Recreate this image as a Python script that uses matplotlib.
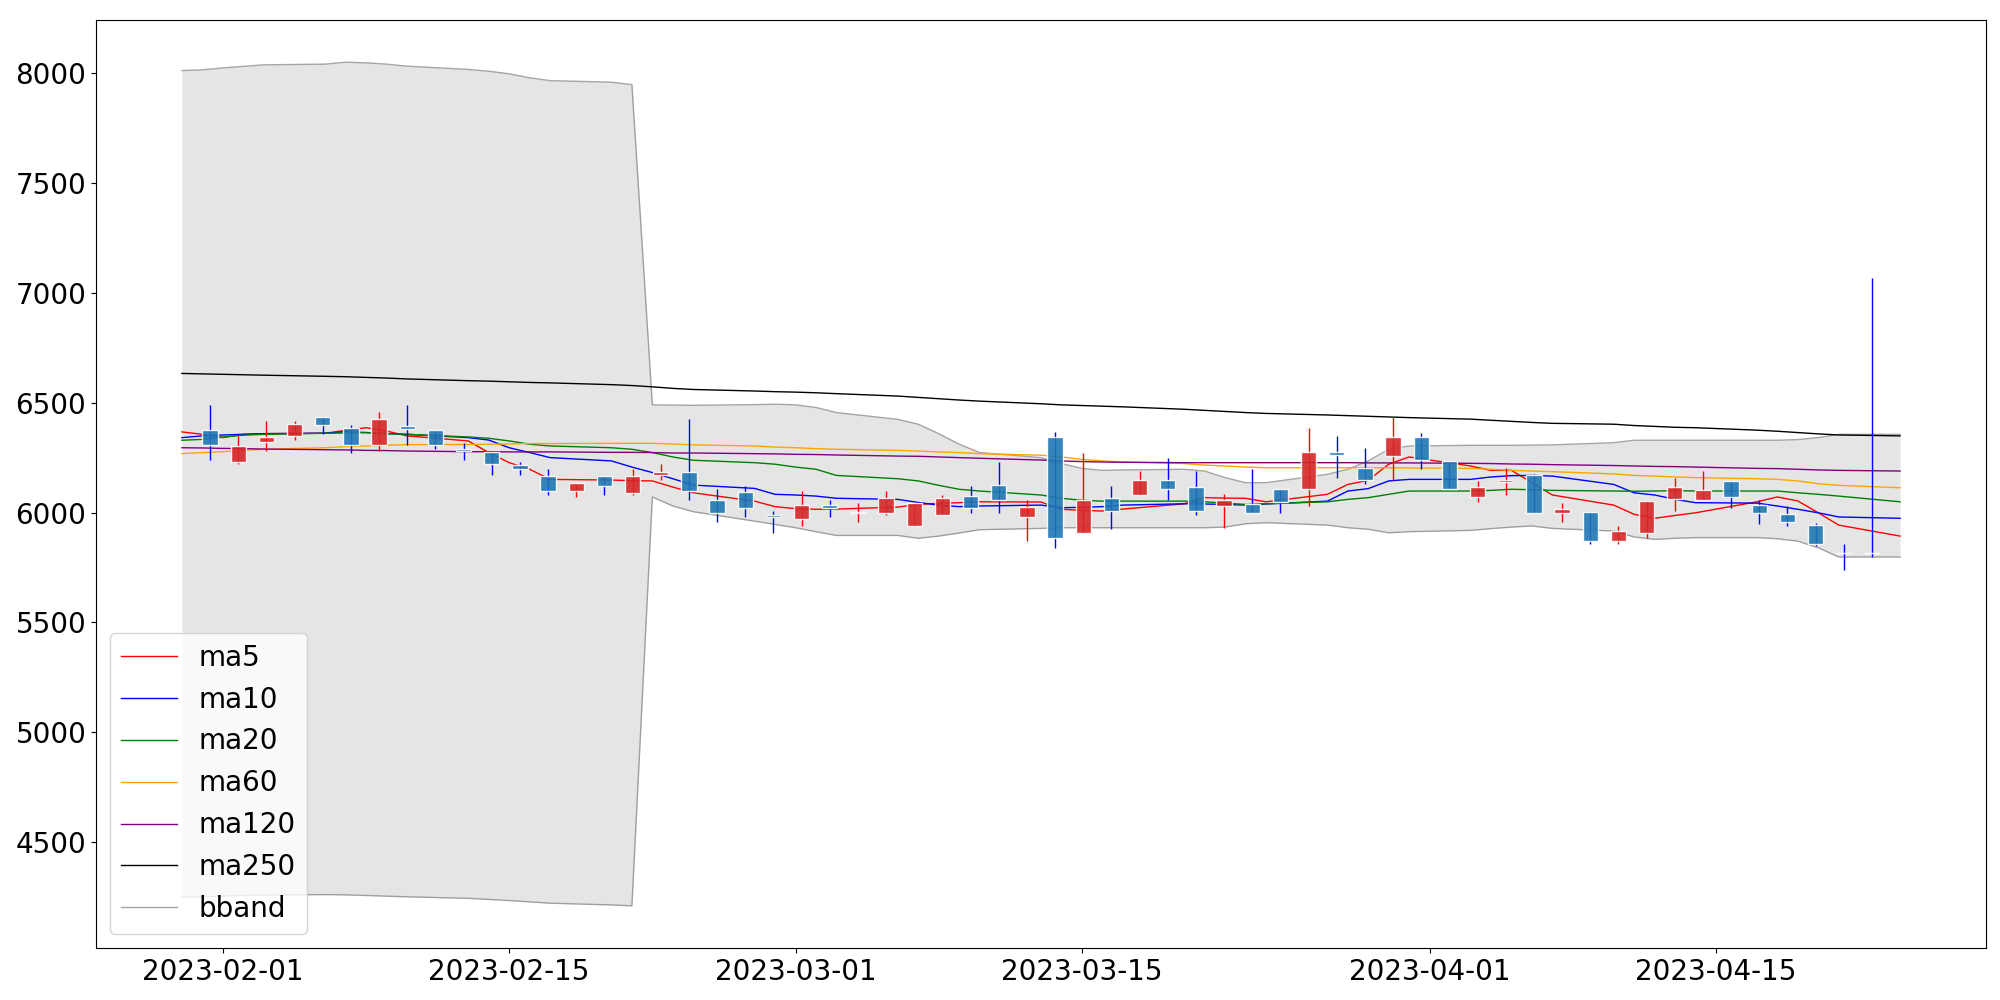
import matplotlib
matplotlib.use("Agg")
import matplotlib.pyplot as plt
import matplotlib.dates as mdates
import numpy as np
import pandas as pd

# trading days for the indicator lines
dates = pd.bdate_range("2023-01-30", "2023-04-24")

ma5 = [6367, 6356, 6341, 6356, 6359, 6361, 6374, 6386, 6371, 6349,
       6326, 6273, 6227, 6197, 6151, 6148, 6145, 6144, 6116, 6090,
       6052, 6027, 6018, 6015, 6016, 6025, 6037, 6042, 6045, 6049,
       6048, 6015, 6010, 6007, 6016, 6040, 6068, 6066, 6065, 6049,
       6083, 6128, 6147, 6220, 6253, 6212, 6192, 6192, 6136, 6080,
       6034, 5992, 5974, 5987, 5999, 6049, 6071, 6053, 5999, 5943, 5893]
ma10 = [6341, 6349, 6353, 6356, 6359, 6361, 6368, 6364, 6359, 6356,
        6341, 6330, 6295, 6273, 6250, 6235, 6207, 6182, 6154, 6125,
        6110, 6083, 6080, 6075, 6065, 6060, 6046, 6034, 6027, 6030,
        6034, 6022, 6024, 6027, 6034, 6040, 6039, 6037, 6034, 6039,
        6052, 6098, 6109, 6144, 6151, 6151, 6162, 6168, 6169, 6166,
        6128, 6090, 6080, 6060, 6045, 6043, 6030, 6015, 5999, 5980, 5974]
ma20 = [6329, 6333, 6344, 6352, 6356, 6361, 6362, 6364, 6359, 6356,
        6344, 6338, 6326, 6311, 6303, 6295, 6288, 6273, 6253, 6238,
        6227, 6220, 6207, 6197, 6169, 6154, 6144, 6124, 6106, 6098,
        6080, 6065, 6056, 6052, 6052, 6052, 6049, 6043, 6037, 6040,
        6049, 6060, 6068, 6083, 6098, 6098, 6101, 6106, 6104, 6101,
        6098, 6097, 6098, 6100, 6098, 6098, 6098, 6090, 6083, 6075, 6049]
ma60 = [6268, 6273, 6277, 6283, 6288, 6295, 6300, 6303, 6306, 6309,
        6310, 6311, 6312, 6314, 6314, 6315, 6315, 6315, 6312, 6308,
        6303, 6298, 6295, 6291, 6288, 6283, 6280, 6276, 6273, 6268,
        6261, 6253, 6242, 6235, 6230, 6223, 6216, 6212, 6207, 6204,
        6204, 6204, 6204, 6204, 6203, 6201, 6197, 6192, 6189, 6186,
        6176, 6169, 6166, 6162, 6159, 6154, 6151, 6144, 6131, 6124, 6113]
ma120 = [6295, 6294, 6292, 6291, 6289, 6286, 6285, 6283, 6282, 6280,
         6277, 6277, 6276, 6276, 6276, 6274, 6274, 6273, 6271, 6271,
         6268, 6267, 6265, 6264, 6262, 6257, 6256, 6253, 6250, 6247,
         6239, 6235, 6232, 6230, 6229, 6227, 6227, 6227, 6227, 6227,
         6227, 6227, 6226, 6226, 6226, 6224, 6223, 6221, 6220, 6218,
         6214, 6212, 6210, 6209, 6207, 6201, 6200, 6197, 6194, 6192, 6189]
ma250 = [6633, 6631, 6629, 6627, 6625, 6620, 6618, 6615, 6612, 6608,
         6600, 6598, 6595, 6592, 6590, 6582, 6578, 6572, 6565, 6560,
         6553, 6550, 6548, 6545, 6541, 6530, 6524, 6518, 6512, 6507,
         6495, 6490, 6487, 6484, 6481, 6470, 6465, 6460, 6455, 6451,
         6444, 6441, 6438, 6435, 6432, 6425, 6420, 6415, 6410, 6406,
         6402, 6396, 6392, 6388, 6386, 6375, 6370, 6364, 6358, 6353, 6349]
upper = [8011, 8014, 8023, 8030, 8037, 8040, 8049, 8046, 8040, 8031,
         8016, 8008, 7996, 7978, 7965, 7958, 7947, 6490, 6489, 6488,
         6491, 6493, 6490, 6478, 6455, 6424, 6402, 6359, 6311, 6273,
         6250, 6223, 6201, 6192, 6194, 6197, 6189, 6159, 6136, 6136,
         6174, 6197, 6235, 6288, 6303, 6306, 6306, 6306, 6307, 6308,
         6318, 6329, 6329, 6329, 6329, 6329, 6329, 6332, 6341, 6356, 6356]
lower = [4250, 4252, 4255, 4258, 4260, 4262, 4261, 4258, 4255, 4252,
         4245, 4240, 4235, 4229, 4223, 4215, 4211, 6071, 6030, 6004,
         5961, 5946, 5931, 5913, 5896, 5896, 5883, 5893, 5907, 5922,
         5928, 5931, 5931, 5931, 5931, 5931, 5931, 5934, 5949, 5954,
         5943, 5931, 5924, 5908, 5913, 5919, 5927, 5934, 5939, 5928,
         5916, 5889, 5878, 5883, 5886, 5886, 5881, 5870, 5840, 5798, 5798]

# candles
opens = [6376, 6232, 6321, 6350, 6437, 6386, 6308, 6396, 6377, 6288,
         6277, 6218, 6166, 6098, 6166, 6087, 6171, 6186, 6056, 6095,
         5987, 5972, 6034, 5998, 5998, 5939, 5989, 6077, 6127, 5980,
         6344, 5908, 6068, 6080, 6147, 6118, 6030, 6037, 6106, 6109,
         6276, 6204, 6259, 6344, 6235, 6071, 6141, 6169, 5998, 6002,
         5872, 5908, 6060, 6059, 6144, 6034, 5995, 5943, 5817, 5817]
highs = [6488, 6349, 6415, 6415, 6437, 6397, 6458, 6488, 6377, 6318,
         6277, 6230, 6197, 6136, 6166, 6197, 6219, 6427, 6106, 6119,
         6007, 6098, 6056, 6045, 6098, 6043, 6078, 6119, 6230, 6056,
         6367, 6270, 6119, 6189, 6247, 6189, 6086, 6197, 6106, 6386,
         6347, 6295, 6437, 6364, 6235, 6144, 6204, 6177, 6045, 6002,
         5937, 6053, 6159, 6189, 6144, 6057, 6028, 5954, 5855, 7067]
lows = [6238, 6220, 6279, 6329, 6356, 6270, 6279, 6308, 6288, 6238,
        6169, 6169, 6078, 6071, 6078, 6078, 6147, 6056, 5957, 5980,
        5907, 5937, 5980, 5957, 5989, 5939, 5989, 5996, 5996, 5869,
        5837, 5908, 5927, 6080, 6056, 5987, 5931, 5998, 5996, 6030,
        6156, 6128, 6147, 6197, 6109, 6048, 6078, 5998, 5957, 5855,
        5855, 5886, 6007, 6059, 6019, 5946, 5937, 5846, 5737, 5797]
closes = [6308, 6304, 6345, 6405, 6400, 6308, 6427, 6380, 6308, 6279,
          6221, 6198, 6098, 6136, 6121, 6166, 6186, 6098, 5998, 6021,
          5980, 6036, 6022, 6004, 6068, 6043, 6068, 6022, 6059, 6025,
          5883, 6056, 6007, 6147, 6107, 6007, 6056, 5998, 6049, 6276,
          6260, 6148, 6344, 6241, 6109, 6118, 6147, 5998, 6018, 5872,
          5916, 6053, 6116, 6103, 6071, 5998, 5957, 5857, 5817, 5817]

x = mdates.date2num(dates)
# candles sit evenly spaced inside the date span
cx = np.linspace(x[0], x[-1], len(opens) + 2)[1:-1]
o = np.array(opens)
c = np.array(closes)
up = c > o

fig, ax = plt.subplots(figsize=(20, 10), dpi=100)

ax.fill_between(dates, lower, upper, color="gray", alpha=0.2, lw=0)
ax.plot(dates, upper, color="gray", lw=1, alpha=0.7, label="bband")
ax.plot(dates, lower, color="gray", lw=1, alpha=0.7)

ax.plot(dates, ma5, color="red", lw=1, label="ma5")
ax.plot(dates, ma10, color="blue", lw=1, label="ma10")
ax.plot(dates, ma20, color="green", lw=1, label="ma20")
ax.plot(dates, ma60, color="orange", lw=1, label="ma60")
ax.plot(dates, ma120, color="purple", lw=1, label="ma120")
ax.plot(dates, ma250, color="black", lw=1, label="ma250")

wick_colors = np.where(up, "red", "blue")
ax.vlines(cx, lows, highs, colors=wick_colors, lw=1, zorder=3)
body_colors = np.where(up, "tab:red", "tab:blue")
ax.bar(cx, c - o, bottom=o, width=0.75, color=body_colors, alpha=0.9,
       edgecolor="white", linewidth=1, zorder=4)

ax.xaxis.set_major_formatter(mdates.DateFormatter("%Y-%m-%d"))
ax.tick_params(labelsize=20)

handles, labels = ax.get_legend_handles_labels()
order = ["ma5", "ma10", "ma20", "ma60", "ma120", "ma250", "bband"]
hmap = dict(zip(labels, handles))
ax.legend([hmap[k] for k in order], order, loc="lower left", fontsize=20)

fig.subplots_adjust(left=0.048, right=0.993, bottom=0.052, top=0.98)
fig.savefig("out.png")
